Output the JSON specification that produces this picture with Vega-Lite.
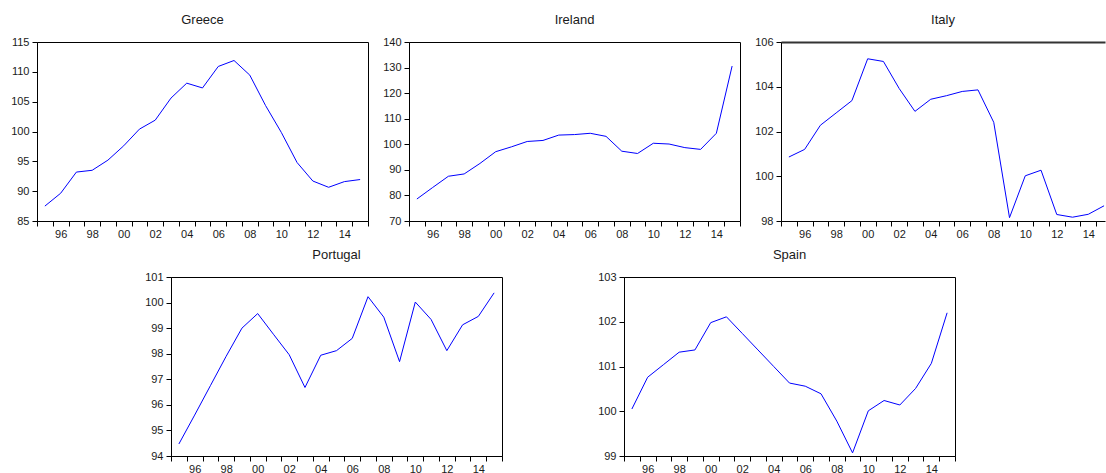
{
  "$schema": "https://vega.github.io/schema/vega-lite/v6.json",
  "padding": {"left": 10, "top": 13, "right": 0, "bottom": 0},
  "autosize": {"type": "pad"},
  "background": "white",
  "data": {"values": [
    {"country": "Greece", "year": 1995, "value": 87.5},
    {"country": "Greece", "year": 1996, "value": 89.65},
    {"country": "Greece", "year": 1997, "value": 93.2},
    {"country": "Greece", "year": 1998, "value": 93.5},
    {"country": "Greece", "year": 1999, "value": 95.2},
    {"country": "Greece", "year": 2000, "value": 97.6},
    {"country": "Greece", "year": 2001, "value": 100.4},
    {"country": "Greece", "year": 2002, "value": 101.9},
    {"country": "Greece", "year": 2003, "value": 105.6},
    {"country": "Greece", "year": 2004, "value": 108.1},
    {"country": "Greece", "year": 2005, "value": 107.3},
    {"country": "Greece", "year": 2006, "value": 110.9},
    {"country": "Greece", "year": 2007, "value": 111.9},
    {"country": "Greece", "year": 2008, "value": 109.45},
    {"country": "Greece", "year": 2009, "value": 104.35},
    {"country": "Greece", "year": 2010, "value": 99.85},
    {"country": "Greece", "year": 2011, "value": 94.8},
    {"country": "Greece", "year": 2012, "value": 91.7},
    {"country": "Greece", "year": 2013, "value": 90.65},
    {"country": "Greece", "year": 2014, "value": 91.6},
    {"country": "Greece", "year": 2015, "value": 91.95},
    {"country": "Ireland", "year": 1995, "value": 78.6},
    {"country": "Ireland", "year": 1996, "value": 83.1},
    {"country": "Ireland", "year": 1997, "value": 87.5},
    {"country": "Ireland", "year": 1998, "value": 88.4},
    {"country": "Ireland", "year": 1999, "value": 92.5},
    {"country": "Ireland", "year": 2000, "value": 97.1},
    {"country": "Ireland", "year": 2001, "value": 99.0},
    {"country": "Ireland", "year": 2002, "value": 101.1},
    {"country": "Ireland", "year": 2003, "value": 101.5},
    {"country": "Ireland", "year": 2004, "value": 103.6},
    {"country": "Ireland", "year": 2005, "value": 103.8},
    {"country": "Ireland", "year": 2006, "value": 104.3},
    {"country": "Ireland", "year": 2007, "value": 103.1},
    {"country": "Ireland", "year": 2008, "value": 97.3},
    {"country": "Ireland", "year": 2009, "value": 96.4},
    {"country": "Ireland", "year": 2010, "value": 100.4},
    {"country": "Ireland", "year": 2011, "value": 100.1},
    {"country": "Ireland", "year": 2012, "value": 98.7},
    {"country": "Ireland", "year": 2013, "value": 98.0},
    {"country": "Ireland", "year": 2014, "value": 104.3},
    {"country": "Ireland", "year": 2015, "value": 130.6},
    {"country": "Italy", "year": 1995, "value": 100.86},
    {"country": "Italy", "year": 1996, "value": 101.2},
    {"country": "Italy", "year": 1997, "value": 102.28},
    {"country": "Italy", "year": 1998, "value": 102.83},
    {"country": "Italy", "year": 1999, "value": 103.38},
    {"country": "Italy", "year": 2000, "value": 105.25},
    {"country": "Italy", "year": 2001, "value": 105.13},
    {"country": "Italy", "year": 2002, "value": 103.92},
    {"country": "Italy", "year": 2003, "value": 102.9},
    {"country": "Italy", "year": 2004, "value": 103.44},
    {"country": "Italy", "year": 2005, "value": 103.6},
    {"country": "Italy", "year": 2006, "value": 103.79},
    {"country": "Italy", "year": 2007, "value": 103.86},
    {"country": "Italy", "year": 2008, "value": 102.41},
    {"country": "Italy", "year": 2009, "value": 98.15},
    {"country": "Italy", "year": 2010, "value": 100.02},
    {"country": "Italy", "year": 2011, "value": 100.27},
    {"country": "Italy", "year": 2012, "value": 98.29},
    {"country": "Italy", "year": 2013, "value": 98.17},
    {"country": "Italy", "year": 2014, "value": 98.3},
    {"country": "Italy", "year": 2015, "value": 98.68},
    {"country": "Portugal", "year": 1995, "value": 94.47},
    {"country": "Portugal", "year": 1996, "value": 95.6},
    {"country": "Portugal", "year": 1997, "value": 96.75},
    {"country": "Portugal", "year": 1998, "value": 97.9},
    {"country": "Portugal", "year": 1999, "value": 99.0},
    {"country": "Portugal", "year": 2000, "value": 99.57},
    {"country": "Portugal", "year": 2001, "value": 98.76},
    {"country": "Portugal", "year": 2002, "value": 97.96},
    {"country": "Portugal", "year": 2003, "value": 96.68},
    {"country": "Portugal", "year": 2004, "value": 97.94},
    {"country": "Portugal", "year": 2005, "value": 98.12},
    {"country": "Portugal", "year": 2006, "value": 98.6},
    {"country": "Portugal", "year": 2007, "value": 100.23},
    {"country": "Portugal", "year": 2008, "value": 99.43},
    {"country": "Portugal", "year": 2009, "value": 97.69},
    {"country": "Portugal", "year": 2010, "value": 100.02},
    {"country": "Portugal", "year": 2011, "value": 99.34},
    {"country": "Portugal", "year": 2012, "value": 98.12},
    {"country": "Portugal", "year": 2013, "value": 99.13},
    {"country": "Portugal", "year": 2014, "value": 99.46},
    {"country": "Portugal", "year": 2015, "value": 100.38},
    {"country": "Spain", "year": 1995, "value": 100.05},
    {"country": "Spain", "year": 1996, "value": 100.76},
    {"country": "Spain", "year": 1997, "value": 101.04},
    {"country": "Spain", "year": 1998, "value": 101.32},
    {"country": "Spain", "year": 1999, "value": 101.37},
    {"country": "Spain", "year": 2000, "value": 101.98},
    {"country": "Spain", "year": 2001, "value": 102.11},
    {"country": "Spain", "year": 2002, "value": 101.74},
    {"country": "Spain", "year": 2003, "value": 101.37},
    {"country": "Spain", "year": 2004, "value": 101.0},
    {"country": "Spain", "year": 2005, "value": 100.63},
    {"country": "Spain", "year": 2006, "value": 100.56},
    {"country": "Spain", "year": 2007, "value": 100.39},
    {"country": "Spain", "year": 2008, "value": 99.78},
    {"country": "Spain", "year": 2009, "value": 99.07},
    {"country": "Spain", "year": 2010, "value": 100.01},
    {"country": "Spain", "year": 2011, "value": 100.24},
    {"country": "Spain", "year": 2012, "value": 100.14},
    {"country": "Spain", "year": 2013, "value": 100.51},
    {"country": "Spain", "year": 2014, "value": 101.07},
    {"country": "Spain", "year": 2015, "value": 102.2}
  ]},
  "config": {
    "view": {"stroke": "black", "strokeWidth": 1},
    "axis": {
      "domainColor": "black",
      "tickColor": "black",
      "labelColor": "#1a1a1a",
      "labelFont": "Liberation Sans",
      "labelFontSize": 11,
      "grid": false,
      "title": null,
      "tickSize": 5,
      "labelPadding": 3
    },
    "axisX": {"labelPadding": 2},
    "title": {
      "font": "Liberation Sans",
      "fontSize": 13,
      "fontWeight": "normal",
      "color": "#1a1a1a",
      "anchor": "middle",
      "frame": "group",
      "baseline": "alphabetic",
      "offset": 9
    },
    "line": {"color": "#0000ff", "strokeWidth": 1}
  },
  "spacing": 8,
  "vconcat": [
    {
      "bounds": "flush",
      "spacing": 41,
      "hconcat": [
        {
          "title": "Greece",
          "width": 331, "height": 179,
          "transform": [{"filter": "datum.country === 'Greece'"}],
          "mark": "line",
          "encoding": {
            "x": {"field": "year", "type": "quantitative",
                  "scale": {"domain": [1994.5, 2015.5], "nice": false, "zero": false},
                  "axis": {"values": [1994.5,1995.5,1996.5,1997.5,1998.5,1999.5,2000.5,2001.5,2002.5,2003.5,2004.5,2005.5,2006.5,2007.5,2008.5,2009.5,2010.5,2011.5,2012.5,2013.5,2014.5,2015.5,1996,1998,2000,2002,2004,2006,2008,2010,2012,2014],
                           "labelExpr": "datum.value % 2 === 0 ? substring(toString(datum.value), 2, 4) : ''",
                           "labelOverlap": false, "labelFlush": false,
                           "tickOpacity": {"condition": {"test": "datum.value % 1 === 0", "value": 0}, "value": 1}}},
            "y": {"field": "value", "type": "quantitative",
                  "scale": {"domain": [85, 115], "nice": false, "zero": false},
                  "axis": {"values": [85, 90, 95, 100, 105, 110, 115]}}
          }
        },
        {
          "title": "Ireland",
          "width": 331, "height": 179,
          "transform": [{"filter": "datum.country === 'Ireland'"}],
          "mark": "line",
          "encoding": {
            "x": {"field": "year", "type": "quantitative",
                  "scale": {"domain": [1994.5, 2015.5], "nice": false, "zero": false},
                  "axis": {"values": [1994.5,1995.5,1996.5,1997.5,1998.5,1999.5,2000.5,2001.5,2002.5,2003.5,2004.5,2005.5,2006.5,2007.5,2008.5,2009.5,2010.5,2011.5,2012.5,2013.5,2014.5,2015.5,1996,1998,2000,2002,2004,2006,2008,2010,2012,2014],
                           "labelExpr": "datum.value % 2 === 0 ? substring(toString(datum.value), 2, 4) : ''",
                           "labelOverlap": false, "labelFlush": false,
                           "tickOpacity": {"condition": {"test": "datum.value % 1 === 0", "value": 0}, "value": 1}}},
            "y": {"field": "value", "type": "quantitative",
                  "scale": {"domain": [70, 140], "nice": false, "zero": false},
                  "axis": {"values": [70, 80, 90, 100, 110, 120, 130, 140]}}
          }
        },
        {
          "title": "Italy",
          "width": 324, "height": 179,
          "view": {"stroke": null},
          "transform": [{"filter": "datum.country === 'Italy'"}],
          "resolve": {"axis": {"x": "independent"}},
          "layer": [
            {
              "mark": "line",
              "encoding": {
                "x": {"field": "year", "type": "quantitative",
                      "scale": {"domain": [1994.5, 2015.06], "nice": false, "zero": false},
                      "axis": {"values": [1994.5,1995.5,1996.5,1997.5,1998.5,1999.5,2000.5,2001.5,2002.5,2003.5,2004.5,2005.5,2006.5,2007.5,2008.5,2009.5,2010.5,2011.5,2012.5,2013.5,2014.5,1996,1998,2000,2002,2004,2006,2008,2010,2012,2014],
                               "labelExpr": "datum.value % 2 === 0 ? substring(toString(datum.value), 2, 4) : ''",
                               "labelOverlap": false, "labelFlush": false,
                               "tickOpacity": {"condition": {"test": "datum.value % 1 === 0", "value": 0}, "value": 1}}},
                "y": {"field": "value", "type": "quantitative",
                      "scale": {"domain": [98, 106], "nice": false, "zero": false},
                      "axis": {"values": [98, 100, 102, 104, 106]}}
              }
            },
            {
              "mark": {"type": "line", "strokeOpacity": 0},
              "encoding": {
                "x": {"field": "year", "type": "quantitative",
                      "axis": {"orient": "top", "labels": false, "ticks": false, "domainColor": "#333333", "domainWidth": 2}},
                "y": {"field": "value", "type": "quantitative"}
              }
            }
          ]
        }
      ]
    },
    {
      "bounds": "flush",
      "spacing": 122,
      "hconcat": [
        {
          "width": 12, "height": 179,
          "view": {"stroke": null, "fill": "white"},
          "data": {"values": []},
          "mark": "point",
          "encoding": {}
        },
        {
          "title": "Portugal",
          "width": 331, "height": 179,
          "transform": [{"filter": "datum.country === 'Portugal'"}],
          "mark": "line",
          "encoding": {
            "x": {"field": "year", "type": "quantitative",
                  "scale": {"domain": [1994.5, 2015.5], "nice": false, "zero": false},
                  "axis": {"values": [1994.5,1995.5,1996.5,1997.5,1998.5,1999.5,2000.5,2001.5,2002.5,2003.5,2004.5,2005.5,2006.5,2007.5,2008.5,2009.5,2010.5,2011.5,2012.5,2013.5,2014.5,2015.5,1996,1998,2000,2002,2004,2006,2008,2010,2012,2014],
                           "labelExpr": "datum.value % 2 === 0 ? substring(toString(datum.value), 2, 4) : ''",
                           "labelOverlap": false, "labelFlush": false,
                           "tickOpacity": {"condition": {"test": "datum.value % 1 === 0", "value": 0}, "value": 1}}},
            "y": {"field": "value", "type": "quantitative",
                  "scale": {"domain": [94, 101], "nice": false, "zero": false},
                  "axis": {"values": [94, 95, 96, 97, 98, 99, 100, 101]}}
          }
        },
        {
          "title": "Spain",
          "width": 331, "height": 179,
          "transform": [{"filter": "datum.country === 'Spain'"}],
          "mark": "line",
          "encoding": {
            "x": {"field": "year", "type": "quantitative",
                  "scale": {"domain": [1994.5, 2015.5], "nice": false, "zero": false},
                  "axis": {"values": [1994.5,1995.5,1996.5,1997.5,1998.5,1999.5,2000.5,2001.5,2002.5,2003.5,2004.5,2005.5,2006.5,2007.5,2008.5,2009.5,2010.5,2011.5,2012.5,2013.5,2014.5,2015.5,1996,1998,2000,2002,2004,2006,2008,2010,2012,2014],
                           "labelExpr": "datum.value % 2 === 0 ? substring(toString(datum.value), 2, 4) : ''",
                           "labelOverlap": false, "labelFlush": false,
                           "tickOpacity": {"condition": {"test": "datum.value % 1 === 0", "value": 0}, "value": 1}}},
            "y": {"field": "value", "type": "quantitative",
                  "scale": {"domain": [99, 103], "nice": false, "zero": false},
                  "axis": {"values": [99, 100, 101, 102, 103]}}
          }
        }
      ]
    }
  ]
}
